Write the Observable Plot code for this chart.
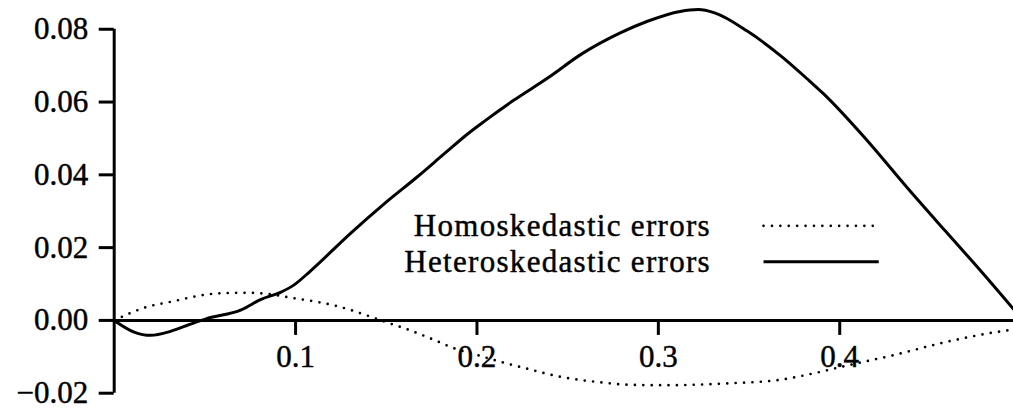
<!DOCTYPE html>
<html>
<head>
<meta charset="utf-8">
<script src="https://cdn.jsdelivr.net/npm/d3@7"></script>
<script src="https://cdn.jsdelivr.net/npm/@observablehq/plot@0.6"></script>
<style>
  html, body { margin: 0; padding: 0; background: #fff; }
  #chart { width: 1013px; height: 408px; }
</style>
</head>
<body>
<div id="chart"></div>
<script>
// Axis ticks
const xTicks = [0.1, 0.2, 0.3, 0.4];
const yTicks = [-0.02, 0.00, 0.02, 0.04, 0.06, 0.08];

// Homoskedastic errors (dotted curve)
const homoX = [0, 0.018, 0.033, 0.048, 0.060, 0.075, 0.084, 0.099, 0.114, 0.123,
               0.141, 0.150, 0.163, 0.177, 0.186, 0.200, 0.214, 0.228, 0.246, 0.266,
               0.285, 0.304, 0.338, 0.366, 0.386, 0.404, 0.430, 0.458, 0.485, 0.496];
const homoY = [0, 0.0037, 0.0053, 0.0069, 0.0075, 0.0076, 0.0073, 0.0061, 0.0049, 0.0039,
               0.0011, -0.0005, -0.0027, -0.0055, -0.0074, -0.0095, -0.0115, -0.0133, -0.0155, -0.0169,
               -0.0177, -0.0178, -0.0173, -0.0164, -0.0145, -0.0124, -0.0095, -0.0060, -0.0033, -0.0025];

// Heteroskedastic errors (solid curve)
const heteroX = [0, 0.011, 0.020, 0.031, 0.040, 0.051, 0.070, 0.081, 0.092, 0.099,
                 0.108, 0.130, 0.149, 0.167, 0.182, 0.195, 0.204, 0.220, 0.239, 0.258,
                 0.279, 0.294, 0.312, 0.322, 0.331, 0.349, 0.368, 0.382, 0.391, 0.415,
                 0.437, 0.458, 0.476, 0.496];
const heteroY = [0, -0.0032, -0.0041, -0.0030, -0.0014, 0.0005, 0.0029, 0.0058, 0.0078, 0.0097,
                 0.0135, 0.0238, 0.0321, 0.0394, 0.0458, 0.0513, 0.0547, 0.0604, 0.0666, 0.0733,
                 0.0790, 0.0822, 0.0849, 0.0854, 0.0845, 0.0795, 0.0725, 0.0664, 0.0623, 0.0495,
                 0.0366, 0.0247, 0.0146, 0.0030];

// Legend entries, placed in data units inside the plot
const legendLabels = ["Homoskedastic errors", "Heteroskedastic errors"];
const legendRowY = [0.0260, 0.0161];
const legendTextX = 0.329;
const legendSampleX = [0.358, 0.4215];

const homo = homoX.map((x, i) => ({x, y: homoY[i]}));
const hetero = heteroX.map((x, i) => ({x, y: heteroY[i]}));
const legend = legendLabels.map((label, i) => ({label, y: legendRowY[i]}));

const fmtY = d3.format(".2f");
const fmtX = d3.format(".1f");
const font = "'Liberation Serif', 'Times New Roman', serif";
const lw = 3;
const dotted = {strokeDasharray: "0 8.4", strokeLinecap: "round", strokeWidth: 2.7};
const label = {fontSize: 31, fill: "#000", stroke: "#000", strokeWidth: 0.45};

const chart = Plot.plot({
  width: 1013,
  height: 408,
  marginLeft: 113.7,
  marginRight: 0,
  marginTop: 0,
  marginBottom: 0,
  x: {domain: [0, 0.4958], axis: null},
  y: {domain: [-0.0242, 0.0879], axis: null},
  style: {fontFamily: font, background: "#fff", color: "#000", overflow: "visible"},
  marks: [
    // x axis along y = 0 and the y axis spanning the tick range
    Plot.ruleY([0], {strokeWidth: lw}),
    Plot.ruleX([0], {y1: yTicks[0], y2: yTicks[yTicks.length - 1], strokeWidth: lw}),
    Plot.ruleY(yTicks, {y: d => d, x1: 0, x2: 0, insetLeft: -15, strokeWidth: lw}),
    Plot.ruleX(xTicks, {x: d => d, y1: 0, y2: 0, insetBottom: -15, strokeWidth: lw}),
    Plot.text(yTicks, {x: 0, y: d => d, text: d => fmtY(d), textAnchor: "end", dx: -26, ...label}),
    Plot.text(xTicks, {x: d => d, y: 0, text: d => fmtX(d), dy: 37, ...label}),

    // curves
    Plot.line(homo, {x: "x", y: "y", curve: "monotone-x", stroke: "#000", ...dotted}),
    Plot.line(hetero, {x: "x", y: "y", curve: "monotone-x", stroke: "#000", strokeWidth: lw}),

    // legend
    Plot.text(legend, {x: legendTextX, y: "y", text: "label", textAnchor: "end", ...label}),
    Plot.link([legend[0]], {x1: legendSampleX[0], x2: legendSampleX[1], y1: "y", y2: "y", stroke: "#000", ...dotted}),
    Plot.link([legend[1]], {x1: legendSampleX[0], x2: legendSampleX[1], y1: "y", y2: "y", stroke: "#000", strokeWidth: lw})
  ]
});

// widen the legend labels slightly to match the wider text face
chart.querySelectorAll("text").forEach(t => {
  if (legendLabels.includes(t.textContent)) t.style.letterSpacing = "1.3px";
});

document.getElementById("chart").appendChild(chart);
</script>
</body>
</html>
